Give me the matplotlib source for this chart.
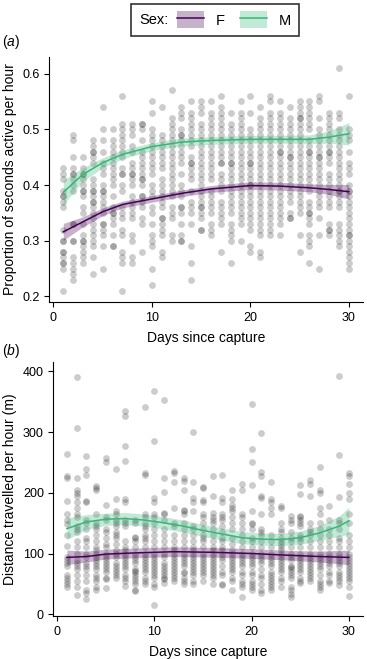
import numpy as np
import matplotlib
matplotlib.use("Agg")
import matplotlib.pyplot as plt
from matplotlib.patches import Patch
from matplotlib.lines import Line2D
from matplotlib.offsetbox import HPacker

plt.rcParams["font.family"] = ["Liberation Sans", "DejaVu Sans"]
plt.rcParams["mathtext.fontset"] = "custom"
plt.rcParams["mathtext.it"] = "Liberation Sans:italic"
plt.rcParams["mathtext.rm"] = "Liberation Sans"

# raw observations, one list per day (1..30)
days = list(range(1, 31))

active = [
    [0.43, 0.42, 0.41, 0.39, 0.38, 0.38, 0.37, 0.36, 0.32, 0.30, 0.30, 0.28, 0.28, 0.27, 0.26, 0.26, 0.25, 0.21],
    [0.49, 0.48, 0.45, 0.43, 0.42, 0.42, 0.41, 0.40, 0.39, 0.33, 0.33, 0.30, 0.30, 0.27, 0.26, 0.25, 0.24, 0.23],
    [0.45, 0.43, 0.42, 0.42, 0.41, 0.40, 0.39, 0.39, 0.38, 0.36, 0.35, 0.33, 0.31, 0.30, 0.30, 0.29, 0.28, 0.27, 0.26],
    [0.48, 0.47, 0.46, 0.46, 0.45, 0.44, 0.41, 0.40, 0.39, 0.39, 0.38, 0.37, 0.37, 0.36, 0.35, 0.34, 0.33, 0.32, 0.31, 0.30, 0.29, 0.27, 0.24],
    [0.54, 0.50, 0.48, 0.46, 0.44, 0.43, 0.42, 0.40, 0.39, 0.39, 0.38, 0.37, 0.36, 0.35, 0.33, 0.33, 0.32, 0.31, 0.29, 0.25],
    [0.50, 0.48, 0.47, 0.46, 0.45, 0.44, 0.43, 0.42, 0.41, 0.40, 0.38, 0.36, 0.35, 0.35, 0.34, 0.33, 0.31, 0.29, 0.29],
    [0.56, 0.51, 0.50, 0.49, 0.48, 0.47, 0.46, 0.45, 0.43, 0.42, 0.42, 0.40, 0.39, 0.36, 0.35, 0.34, 0.32, 0.31, 0.28, 0.27, 0.26, 0.21],
    [0.51, 0.50, 0.49, 0.47, 0.46, 0.44, 0.43, 0.42, 0.42, 0.41, 0.40, 0.38, 0.37, 0.36, 0.35, 0.34, 0.31, 0.30, 0.27, 0.26],
    [0.51, 0.51, 0.50, 0.48, 0.46, 0.45, 0.44, 0.43, 0.42, 0.41, 0.41, 0.40, 0.38, 0.38, 0.37, 0.36, 0.34, 0.33, 0.28],
    [0.55, 0.53, 0.50, 0.49, 0.48, 0.47, 0.46, 0.45, 0.44, 0.43, 0.42, 0.40, 0.39, 0.38, 0.36, 0.35, 0.33, 0.31, 0.30, 0.29, 0.25, 0.22],
    [0.54, 0.49, 0.48, 0.47, 0.46, 0.45, 0.44, 0.43, 0.41, 0.40, 0.39, 0.38, 0.37, 0.36, 0.34, 0.34, 0.33, 0.32, 0.31, 0.28, 0.27],
    [0.57, 0.52, 0.51, 0.50, 0.49, 0.48, 0.47, 0.46, 0.45, 0.44, 0.43, 0.42, 0.41, 0.40, 0.39, 0.38, 0.36, 0.35, 0.34, 0.31, 0.30],
    [0.54, 0.53, 0.52, 0.50, 0.49, 0.49, 0.48, 0.47, 0.46, 0.45, 0.44, 0.42, 0.40, 0.39, 0.38, 0.36, 0.36, 0.35, 0.33, 0.31, 0.30, 0.30],
    [0.55, 0.53, 0.52, 0.51, 0.50, 0.49, 0.48, 0.47, 0.45, 0.44, 0.44, 0.43, 0.42, 0.41, 0.39, 0.37, 0.36, 0.35, 0.33, 0.29, 0.26, 0.23],
    [0.55, 0.54, 0.53, 0.51, 0.50, 0.49, 0.48, 0.47, 0.46, 0.45, 0.44, 0.43, 0.42, 0.41, 0.40, 0.39, 0.38, 0.37, 0.36, 0.36, 0.35, 0.34, 0.32, 0.32],
    [0.55, 0.53, 0.52, 0.51, 0.50, 0.49, 0.48, 0.47, 0.46, 0.45, 0.44, 0.43, 0.42, 0.41, 0.39, 0.38, 0.37, 0.36, 0.35, 0.33, 0.32, 0.31],
    [0.56, 0.54, 0.53, 0.52, 0.51, 0.50, 0.49, 0.48, 0.47, 0.46, 0.45, 0.44, 0.44, 0.42, 0.41, 0.40, 0.39, 0.37, 0.36, 0.35, 0.34, 0.33, 0.28],
    [0.53, 0.51, 0.50, 0.49, 0.48, 0.47, 0.46, 0.45, 0.44, 0.44, 0.43, 0.42, 0.41, 0.40, 0.39, 0.38, 0.37, 0.36, 0.35, 0.33, 0.32, 0.31, 0.30, 0.26],
    [0.55, 0.53, 0.52, 0.51, 0.50, 0.49, 0.48, 0.47, 0.46, 0.45, 0.44, 0.43, 0.42, 0.41, 0.40, 0.39, 0.38, 0.37, 0.36, 0.35, 0.34, 0.33, 0.30],
    [0.56, 0.53, 0.50, 0.49, 0.48, 0.47, 0.46, 0.45, 0.44, 0.44, 0.43, 0.42, 0.41, 0.40, 0.40, 0.39, 0.38, 0.37, 0.36, 0.35, 0.34, 0.33, 0.32, 0.29, 0.28],
    [0.54, 0.52, 0.51, 0.50, 0.49, 0.48, 0.47, 0.46, 0.45, 0.44, 0.43, 0.42, 0.41, 0.40, 0.39, 0.38, 0.37, 0.36, 0.35, 0.34, 0.33, 0.32, 0.31, 0.28, 0.27],
    [0.56, 0.55, 0.53, 0.52, 0.51, 0.50, 0.49, 0.48, 0.47, 0.46, 0.45, 0.44, 0.43, 0.42, 0.41, 0.40, 0.39, 0.38, 0.37, 0.36, 0.35, 0.34, 0.33, 0.32, 0.31],
    [0.55, 0.53, 0.52, 0.51, 0.50, 0.49, 0.48, 0.47, 0.46, 0.46, 0.45, 0.44, 0.43, 0.42, 0.41, 0.40, 0.39, 0.38, 0.37, 0.36, 0.35, 0.34, 0.33, 0.31],
    [0.54, 0.52, 0.51, 0.50, 0.49, 0.48, 0.47, 0.46, 0.45, 0.45, 0.44, 0.43, 0.42, 0.41, 0.40, 0.39, 0.38, 0.37, 0.35, 0.34, 0.34],
    [0.55, 0.54, 0.53, 0.52, 0.52, 0.51, 0.50, 0.49, 0.48, 0.47, 0.46, 0.45, 0.44, 0.43, 0.42, 0.41, 0.40, 0.39, 0.38, 0.37, 0.36, 0.35, 0.31, 0.28],
    [0.55, 0.54, 0.53, 0.52, 0.51, 0.50, 0.48, 0.47, 0.46, 0.46, 0.45, 0.44, 0.43, 0.42, 0.41, 0.40, 0.39, 0.37, 0.36, 0.35, 0.35, 0.34, 0.33, 0.31, 0.30, 0.29, 0.26],
    [0.56, 0.55, 0.52, 0.50, 0.49, 0.48, 0.47, 0.46, 0.45, 0.45, 0.44, 0.43, 0.42, 0.41, 0.40, 0.39, 0.38, 0.37, 0.36, 0.34, 0.31, 0.25],
    [0.53, 0.52, 0.51, 0.50, 0.49, 0.48, 0.47, 0.46, 0.46, 0.45, 0.44, 0.42, 0.41, 0.40, 0.39, 0.38, 0.37, 0.36, 0.33, 0.32, 0.32, 0.31],
    [0.61, 0.53, 0.52, 0.50, 0.49, 0.48, 0.47, 0.46, 0.45, 0.44, 0.43, 0.42, 0.41, 0.40, 0.39, 0.39, 0.38, 0.37, 0.36, 0.33, 0.32, 0.31, 0.30, 0.29],
    [0.56, 0.50, 0.49, 0.48, 0.46, 0.44, 0.43, 0.42, 0.40, 0.39, 0.39, 0.38, 0.37, 0.36, 0.35, 0.34, 0.33, 0.32, 0.31, 0.31, 0.30, 0.29, 0.28, 0.27, 0.26, 0.25],
]

distance = [
    [264, 228, 225, 186, 165, 155, 148, 130, 112, 95, 90, 85, 80, 65, 60, 55, 50, 45],
    [390, 307, 225, 205, 200, 195, 185, 175, 165, 160, 145, 140, 135, 120, 110, 100, 90, 85, 80, 75, 65, 55, 45, 32],
    [260, 240, 230, 187, 185, 155, 150, 140, 125, 120, 110, 100, 95, 85, 80, 75, 65, 55, 40, 35, 25],
    [212, 208, 205, 165, 150, 145, 140, 130, 120, 110, 105, 100, 95, 90, 85, 80, 75, 65, 60, 55, 45, 40],
    [257, 250, 180, 160, 155, 140, 135, 125, 115, 110, 100, 95, 90, 85, 80, 75, 70, 60, 58, 43],
    [240, 190, 170, 165, 155, 150, 145, 135, 130, 125, 115, 105, 100, 95, 85, 80, 75, 70, 65, 60],
    [335, 327, 277, 252, 190, 185, 155, 150, 145, 120, 110, 105, 100, 95, 90, 85, 80, 75, 65, 60, 55, 47],
    [155, 150, 128, 125, 120, 110, 100, 95, 90, 85, 75, 72, 70, 65, 60, 55, 50, 40, 38],
    [341, 232, 230, 165, 160, 150, 145, 140, 130, 125, 120, 110, 100, 95, 90, 85, 80, 75, 70, 60, 55, 50],
    [368, 285, 192, 185, 165, 160, 150, 140, 130, 120, 110, 100, 95, 90, 85, 80, 75, 70, 65, 60, 50, 45, 16],
    [353, 224, 202, 167, 165, 155, 140, 130, 120, 110, 100, 95, 85, 80, 75, 70, 65, 60, 58, 52],
    [236, 232, 218, 175, 150, 145, 130, 120, 110, 105, 100, 95, 90, 85, 80, 75, 70, 65, 60, 55],
    [225, 220, 205, 172, 170, 165, 150, 140, 130, 120, 110, 100, 95, 90, 85, 80, 70, 68, 60, 55, 50],
    [300, 217, 192, 185, 170, 145, 140, 130, 120, 110, 105, 100, 95, 90, 85, 80, 75, 70, 65, 55, 50],
    [210, 208, 188, 185, 165, 160, 150, 140, 130, 125, 120, 110, 100, 95, 90, 85, 80, 75, 70, 65, 55],
    [227, 195, 167, 160, 155, 150, 140, 130, 120, 110, 105, 100, 95, 90, 85, 80, 75, 70, 65, 60, 50],
    [229, 192, 185, 165, 160, 155, 145, 135, 125, 120, 110, 105, 100, 95, 90, 80, 70, 65, 50, 48],
    [205, 190, 180, 175, 170, 160, 150, 140, 125, 115, 105, 100, 95, 90, 85, 80, 75, 70, 60, 55, 40],
    [215, 205, 165, 160, 150, 140, 130, 120, 110, 100, 95, 90, 85, 80, 70, 65, 55, 50, 45, 28],
    [346, 272, 250, 213, 170, 150, 148, 140, 125, 120, 110, 100, 95, 90, 85, 80, 70, 65, 55, 50, 45, 40],
    [298, 234, 228, 195, 192, 165, 140, 135, 130, 120, 110, 100, 95, 90, 85, 75, 65, 60, 50, 40, 35],
    [217, 190, 185, 175, 165, 130, 120, 110, 100, 95, 90, 85, 80, 70, 65, 60, 55, 50, 45, 40],
    [178, 175, 150, 140, 135, 125, 120, 115, 110, 105, 100, 95, 90, 85, 80, 75, 70, 60, 55, 45],
    [162, 155, 150, 135, 125, 120, 110, 100, 95, 90, 80, 78, 75, 70, 65, 60, 45, 40, 33, 28],
    [213, 198, 162, 160, 155, 150, 145, 130, 125, 120, 110, 100, 95, 90, 85, 80, 75, 70, 60, 55, 52],
    [221, 215, 195, 150, 140, 135, 130, 120, 110, 100, 95, 90, 85, 80, 75, 70, 65, 60, 55],
    [242, 205, 200, 175, 165, 150, 140, 130, 120, 110, 100, 95, 90, 85, 80, 75, 65, 55, 50, 45, 40],
    [178, 155, 140, 130, 120, 110, 100, 95, 90, 85, 80, 70, 65, 55, 52],
    [393, 263, 193, 155, 150, 140, 125, 120, 110, 100, 95, 90, 85, 80, 70, 65, 60, 55, 48],
    [232, 228, 215, 200, 190, 165, 150, 130, 120, 110, 100, 95, 90, 85, 80, 75, 70, 65, 60, 55, 45, 30],
]

# smoothed fits with CI half-widths
fit_days_a = [1, 3, 5, 7, 10, 13, 16, 20, 23, 26, 28, 30]
fit_a_M = [0.387, 0.419, 0.440, 0.455, 0.469, 0.477, 0.480, 0.482, 0.482, 0.482, 0.486, 0.492]
ci_a_M = [0.022, 0.012, 0.009, 0.008, 0.007, 0.007, 0.007, 0.007, 0.007, 0.008, 0.011, 0.020]
fit_a_F = [0.316, 0.334, 0.352, 0.365, 0.375, 0.385, 0.393, 0.399, 0.398, 0.395, 0.392, 0.388]
ci_a_F = [0.015, 0.009, 0.007, 0.006, 0.006, 0.006, 0.006, 0.007, 0.007, 0.007, 0.009, 0.013]

fit_days_b = [1, 3, 5, 7, 9, 11, 13, 15, 17, 19, 21, 23, 25, 27, 29, 30]
fit_b_M = [141, 152, 156.5, 157.6, 155, 150.5, 145, 138, 132, 126, 123.7, 123, 126, 134, 145, 154]
ci_b_M = [18, 12, 10, 10, 10, 10, 10, 10, 10, 10, 10, 10, 11, 12, 17, 22]
fit_days_b_F = [1, 3, 5, 8, 12, 16, 20, 24, 27, 30]
fit_b_F = [93.6, 95, 99, 101, 103, 102, 100, 97, 95, 93.6]
ci_b_F = [12, 9, 8, 8, 8, 8, 8, 8, 9, 12]

col_F = "#440154"
col_M = "#35B779"

fig = plt.figure(figsize=(3.67, 6.59), dpi=100)
ax1 = fig.add_axes([0.1335, 0.5417, 0.856, 0.372])
ax2 = fig.add_axes([0.144, 0.0652, 0.845, 0.385])


def scatter_days(ax, data):
    xs, ys = [], []
    for d, vals in zip(days, data):
        xs += [d] * len(vals)
        ys += vals
    ax.scatter(xs, ys, s=24, color="black", alpha=0.2, linewidths=0, zorder=1)


def fit(ax, x, y, ci, col):
    y = np.array(y)
    ci = np.array(ci)
    ax.fill_between(x, y - ci, y + ci, color=col, alpha=0.3, linewidth=0, zorder=2)
    ax.plot(x, y, color=col, lw=1.1, zorder=3)


scatter_days(ax1, active)
fit(ax1, fit_days_a, fit_a_F, ci_a_F, col_F)
fit(ax1, fit_days_a, fit_a_M, ci_a_M, col_M)
scatter_days(ax2, distance)
fit(ax2, fit_days_b_F, fit_b_F, ci_b_F, col_F)
fit(ax2, fit_days_b, fit_b_M, ci_b_M, col_M)

ax1.set_ylim(0.19, 0.63)
ax1.set_yticks([0.2, 0.3, 0.4, 0.5, 0.6])
ax2.set_ylim(-3, 415)
ax2.set_yticks([0, 100, 200, 300, 400])

for ax in (ax1, ax2):
    ax.set_xlim(-0.45, 31.45)
    ax.set_xticks([0, 10, 20, 30])
    ax.spines["top"].set_visible(False)
    ax.spines["right"].set_visible(False)
    ax.spines["left"].set_linewidth(0.8)
    ax.spines["bottom"].set_linewidth(0.8)
    ax.tick_params(length=3.5, width=0.8, labelsize=9, colors="black", pad=3)
    ax.tick_params(axis="x", pad=4)
    ax.set_xlabel("Days since capture", fontsize=10, labelpad=5)

ax1.set_ylabel("Proportion of seconds active per hour", fontsize=10, labelpad=4)
ax2.set_ylabel("Distance travelled per hour (m)", fontsize=10, labelpad=4)

fig.text(0.005, 0.936, r"($\it{a}$)", fontsize=10, va="center")
fig.text(0.005, 0.468, r"($\it{b}$)", fontsize=10, va="center")

handles = [(Patch(facecolor=col_F, alpha=0.3), Line2D([], [], color=col_F, lw=1.1)),
           (Patch(facecolor=col_M, alpha=0.3), Line2D([], [], color=col_M, lw=1.1))]
leg = fig.legend(handles, ["F", "M"], title="Sex:", ncol=2, loc="center",
                 bbox_to_anchor=(0.586, 0.970), fontsize=10.5, title_fontsize=10.5,
                 frameon=True, fancybox=False, edgecolor="black",
                 handlelength=1.9, handleheight=1.4, handletextpad=0.8,
                 columnspacing=1.0, borderpad=0.5)
leg.get_frame().set_linewidth(1.2)
hp = HPacker(children=[leg._legend_title_box, leg._legend_handle_box],
             pad=5.5, sep=6, align="center")
hp.set_figure(fig)
leg._legend_box = hp
hp.set_offset(leg._findoffset)

fig.savefig("out.png", dpi=100)
